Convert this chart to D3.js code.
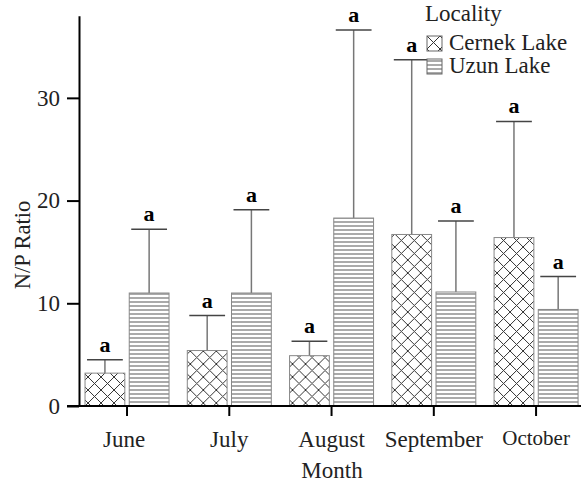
<!DOCTYPE html>
<head>
  <meta charset="utf-8">
  <style>
    body { margin: 0; background: #fff; }
    svg { display: block; font-family: "Liberation Serif", serif; }
  </style>
  <script src="https://cdn.jsdelivr.net/npm/d3@7"></script>
</head>
<body>
<svg id=chart width="581" height="492"></svg>
<script>
  // values
  const months = ['June', 'July', 'August', 'September', 'October']
  const lakes = ['Cernek Lake', 'Uzun Lake']
  const cernek_mean = [3.2, 5.4, 4.9, 16.7, 16.4]
  const cernek_err = [4.5, 8.8, 6.3, 33.7, 27.7]
  const uzun_mean = [11.0, 11.0, 18.3, 11.1, 9.4]
  const uzun_err = [17.2, 19.1, 36.6, 18.0, 12.6]
  const letters = ['a', 'a', 'a', 'a', 'a']
  const y_ticks = [0, 10, 20, 30]

  const serif = '"Liberation Serif", serif'
  const svg = d3.select('#chart')

  // patterns
  const defs = svg.append('defs')
  const cross = defs.append('pattern')
    .attr('id', 'cross').attr('patternUnits', 'userSpaceOnUse')
    .attr('width', 13).attr('height', 13)
  cross.append('path').attr('d', 'M0,0L13,13M13,0L0,13M-1,12L1,14M12,-1L14,1')
    .attr('stroke', '#333').attr('stroke-width', 1).attr('fill', 'none')
  const horiz = defs.append('pattern')
    .attr('id', 'horiz').attr('patternUnits', 'userSpaceOnUse')
    .attr('width', 8).attr('height', 4)
  horiz.append('rect').attr('width', 8).attr('height', 4).attr('fill', '#fff')
  horiz.append('line').attr('x1', 0).attr('x2', 8).attr('y1', 2).attr('y2', 2)
    .attr('stroke', '#555').attr('stroke-width', 1)
  const fills = { 'Cernek Lake': 'url(#cross)', 'Uzun Lake': 'url(#horiz)' }

  const rows = months.map((m, i) => ({
    month: m, letter: letters[i],
    bars: [
      { lake: lakes[0], mean: cernek_mean[i], err: cernek_err[i] },
      { lake: lakes[1], mean: uzun_mean[i], err: uzun_err[i] },
    ]
  }))

  const y = d3.scaleLinear().domain([0, 38]).range([406, 15.7])
  const x = d3.scaleBand().domain(months).range([75.9, 587.2])
  const x1 = d3.scaleBand().domain(lakes).range([-42, 42]).paddingInner(0.1)
  const cx = m => x(m) + x.bandwidth() / 2

  // bars
  const groups = svg.append('g').selectAll('g').data(rows).join('g')
    .attr('transform', d => `translate(${cx(d.month)},0)`)
  const bar = groups.selectAll('g').data(d => d.bars.map(b => ({ ...b, letter: d.letter }))).join('g')
  bar.append('line')
    .attr('x1', d => x1(d.lake) + x1.bandwidth() / 2)
    .attr('x2', d => x1(d.lake) + x1.bandwidth() / 2)
    .attr('y1', d => y(d.mean)).attr('y2', d => y(d.err))
    .attr('stroke', '#777').attr('stroke-width', 1.5)
  bar.append('line')
    .attr('x1', d => x1(d.lake) + 2).attr('x2', d => x1(d.lake) + x1.bandwidth() - 2)
    .attr('y1', d => y(d.err)).attr('y2', d => y(d.err))
    .attr('stroke', '#444').attr('stroke-width', 1.5)
  bar.append('rect')
    .attr('x', d => x1(d.lake)).attr('width', x1.bandwidth())
    .attr('y', d => y(d.mean)).attr('height', d => y(0) - y(d.mean))
    .attr('fill', d => fills[d.lake]).attr('stroke', '#888').attr('stroke-width', 1)
  bar.append('text')
    .attr('x', d => x1(d.lake) + x1.bandwidth() / 2)
    .attr('y', d => y(d.err) - 8)
    .attr('text-anchor', 'middle').attr('font-weight', 'bold').attr('font-size', 22)
    .text(d => d.letter)

  // y axis
  const ya = svg.append('g').attr('transform', 'translate(79,0)')
    .call(d3.axisLeft(y).tickValues(y_ticks).tickSize(12).tickSizeOuter(0).tickPadding(7))
  ya.select('.domain').attr('stroke-width', 2)
  ya.selectAll('.tick line').attr('stroke-width', 2)
  ya.selectAll('.tick text').attr('font-size', 23).attr('font-family', serif).attr('fill', '#222')

  // x axis
  const xa = svg.append('g').attr('transform', 'translate(0,406)')
    .call(d3.axisBottom(x).tickSize(10).tickPadding(14.7))
  xa.select('.domain').remove()
  xa.append('line').attr('x1', 67).attr('x2', 581).attr('stroke', '#000').attr('stroke-width', 2)
  xa.selectAll('.tick line').attr('stroke-width', 2)
  xa.selectAll('.tick text').attr('font-size', d => d === 'October' ? 21 : 23)
    .attr('dy', d => d === 'October' ? '0.68em' : '0.71em')
    .attr('dx', d => d === 'June' ? -3 : 0)
    .attr('font-family', serif).attr('fill', '#222')

  // titles
  svg.append('text').attr('x', 332).attr('y', 478).attr('text-anchor', 'middle')
    .attr('font-size', 23).attr('fill', '#222').text('Month')
  svg.append('text').attr('transform', 'translate(30,245) rotate(-90)').attr('text-anchor', 'middle')
    .attr('font-size', 22.5).attr('fill', '#222').text('N/P Ratio')

  // legend
  const lg = svg.append('g').attr('transform', 'translate(427,0)')
  lg.append('text').attr('x', -2).attr('y', 21).attr('font-size', 23).attr('fill', '#222').text('Locality')
  const li = lg.selectAll('g').data(lakes).join('g')
    .attr('transform', (d, i) => `translate(0,${36 + i * 23})`)
  li.append('rect').attr('width', 15).attr('height', 15)
    .attr('fill', d => fills[d]).attr('stroke', '#666').attr('stroke-width', 1)
  li.append('text').attr('x', 22).attr('y', 14).attr('font-size', 23).attr('fill', '#222').text(d => d)
</script>
</body>
